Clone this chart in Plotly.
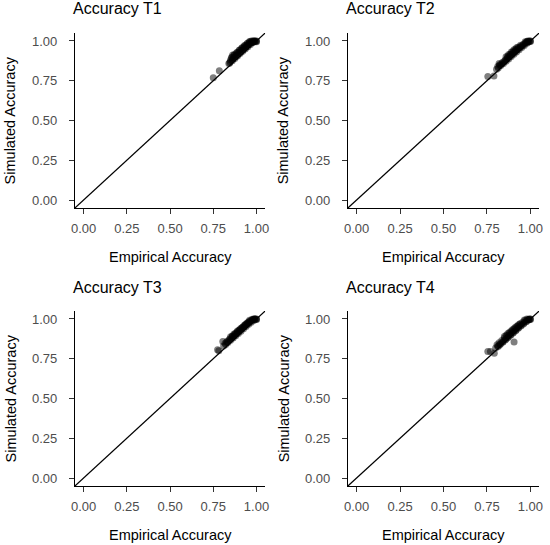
import plotly.graph_objects as go

# accuracy per item
emp_t1 = [0.750, 0.785, 0.862,
          0.840, 0.845, 0.860, 0.875, 0.890, 0.905, 0.920, 0.935, 0.950, 0.965, 0.980, 0.990, 1.000,
          0.850, 0.865, 0.880, 0.895, 0.910, 0.925, 0.940, 0.955, 0.970, 0.985,
          0.855, 0.870, 0.885, 0.900, 0.915, 0.930, 0.945, 0.960,
          0.848, 0.863, 0.878, 0.893, 0.908, 0.923, 0.938, 0.953, 0.968, 0.983,
          0.858, 0.873, 0.888, 0.903, 0.918, 0.933, 0.948,
          0.960, 0.970, 0.980, 0.990, 1.000, 0.995, 0.975]
sim_t1 = [0.769, 0.813, 0.912,
          0.858, 0.862, 0.876, 0.890, 0.905, 0.921, 0.935, 0.950, 0.964, 0.978, 0.990, 0.997, 1.000,
          0.880, 0.895, 0.912, 0.928, 0.943, 0.957, 0.970, 0.983, 0.993, 0.999,
          0.895, 0.912, 0.926, 0.942, 0.956, 0.970, 0.983, 0.993,
          0.870, 0.885, 0.900, 0.915, 0.930, 0.945, 0.960, 0.974, 0.987, 0.997,
          0.898, 0.913, 0.928, 0.943, 0.958, 0.972, 0.986,
          0.997, 1.000, 1.000, 1.000, 0.995, 0.998, 0.990]

emp_t2 = [0.755, 0.790, 0.820,
          0.805, 0.815, 0.830, 0.845, 0.860, 0.875, 0.890, 0.905, 0.920, 0.935, 0.950, 0.965, 0.980, 0.990, 1.000,
          0.812, 0.825, 0.840, 0.855, 0.870, 0.885, 0.900, 0.915, 0.930, 0.945, 0.960, 0.975,
          0.860, 0.875, 0.890, 0.905, 0.920,
          0.822, 0.837, 0.852, 0.867, 0.882, 0.897, 0.912, 0.927, 0.942, 0.957, 0.972, 0.987,
          0.868, 0.883, 0.898, 0.913, 0.928, 0.943,
          0.970, 0.985, 0.995, 1.000, 0.980]
sim_t2 = [0.776, 0.780, 0.858,
          0.822, 0.830, 0.845, 0.858, 0.872, 0.887, 0.902, 0.916, 0.931, 0.945, 0.959, 0.972, 0.986, 0.994, 1.000,
          0.840, 0.852, 0.866, 0.881, 0.896, 0.911, 0.926, 0.940, 0.954, 0.967, 0.980, 0.991,
          0.900, 0.915, 0.930, 0.944, 0.958,
          0.845, 0.859, 0.874, 0.889, 0.904, 0.919, 0.933, 0.948, 0.962, 0.975, 0.987, 0.996,
          0.902, 0.917, 0.932, 0.946, 0.960, 0.973,
          0.995, 0.999, 1.000, 0.996, 0.997]

emp_t3 = [0.775, 0.782, 0.805,
          0.810, 0.822, 0.835, 0.850, 0.865, 0.880, 0.895, 0.910, 0.925, 0.940, 0.955, 0.970, 0.985, 0.995, 1.000,
          0.818, 0.830, 0.845, 0.860, 0.875, 0.890, 0.905, 0.920, 0.935, 0.950, 0.965, 0.980,
          0.850, 0.870, 0.890, 0.910, 0.930, 0.945,
          0.827, 0.842, 0.857, 0.872, 0.887, 0.902, 0.917, 0.932, 0.947, 0.962, 0.977, 0.990,
          0.860, 0.880, 0.900, 0.920, 0.938, 0.955,
          0.960, 0.975, 0.990, 1.000, 0.985]
sim_t3 = [0.807, 0.800, 0.859,
          0.830, 0.840, 0.852, 0.866, 0.880, 0.894, 0.909, 0.923, 0.938, 0.952, 0.966, 0.979, 0.991, 0.998, 1.000,
          0.848, 0.860, 0.874, 0.889, 0.904, 0.919, 0.934, 0.948, 0.962, 0.975, 0.987, 0.996,
          0.888, 0.906, 0.924, 0.942, 0.960, 0.975,
          0.853, 0.867, 0.882, 0.897, 0.912, 0.927, 0.941, 0.956, 0.970, 0.983, 0.994, 0.999,
          0.893, 0.912, 0.931, 0.950, 0.967, 0.982,
          0.992, 0.998, 1.000, 0.996, 0.999]

emp_t4 = [0.755, 0.770, 0.792, 0.906,
          0.800, 0.812, 0.825, 0.840, 0.855, 0.870, 0.885, 0.900, 0.915, 0.930, 0.945, 0.960, 0.975, 0.990, 1.000,
          0.808, 0.820, 0.835, 0.850, 0.865, 0.880, 0.895, 0.910, 0.925, 0.940, 0.955, 0.970, 0.985,
          0.850, 0.870, 0.890, 0.910, 0.930,
          0.816, 0.828, 0.843, 0.858, 0.873, 0.888, 0.903, 0.918, 0.933, 0.948, 0.963, 0.978, 0.992,
          0.860, 0.880, 0.900, 0.920, 0.940,
          0.965, 0.980, 0.995, 1.000]
sim_t4 = [0.795, 0.795, 0.784, 0.855,
          0.818, 0.828, 0.840, 0.854, 0.868, 0.882, 0.897, 0.912, 0.926, 0.941, 0.955, 0.969, 0.982, 0.994, 1.000,
          0.838, 0.850, 0.864, 0.879, 0.894, 0.909, 0.924, 0.938, 0.952, 0.966, 0.979, 0.990, 0.997,
          0.890, 0.908, 0.926, 0.944, 0.962,
          0.828, 0.842, 0.857, 0.872, 0.886, 0.901, 0.916, 0.931, 0.946, 0.960, 0.974, 0.986, 0.996,
          0.898, 0.917, 0.935, 0.953, 0.970,
          0.993, 0.999, 1.000, 0.996]

panel_titles = ["Accuracy T1", "Accuracy T2", "Accuracy T3", "Accuracy T4"]
tick_vals = [0, 0.25, 0.5, 0.75, 1.0]
tick_text = ["0.00", "0.25", "0.50", "0.75", "1.00"]
axis_range = [-0.05, 1.05]

W, H = 550, 545
x_doms = [[72 / W, 265 / W], [349 / W, 543 / W]]
y_doms = [[1 - 208 / H, 1 - 33 / H], [1 - 486 / H, 1 - 311 / H]]

data = [(emp_t1, sim_t1), (emp_t2, sim_t2), (emp_t3, sim_t3), (emp_t4, sim_t4)]
font = "Liberation Sans, Arial, sans-serif"

fig = go.Figure()
annotations = []
for i, (emp, sim) in enumerate(data):
    row, col = i // 2, i % 2
    n = "" if i == 0 else str(i + 1)
    xd, yd = x_doms[col], y_doms[row]
    # identity line across the whole panel
    fig.add_trace(go.Scatter(x=axis_range, y=axis_range, mode="lines",
                             line=dict(color="black", width=1.2),
                             xaxis="x" + n, yaxis="y" + n, hoverinfo="skip"))
    fig.add_trace(go.Scatter(x=emp, y=sim, mode="markers",
                             marker=dict(color="rgba(0,0,0,0.5)", size=7, line=dict(width=0)),
                             xaxis="x" + n, yaxis="y" + n))
    ax = dict(range=axis_range, tickvals=tick_vals, ticktext=tick_text,
              showgrid=False, zeroline=False, showline=True, linecolor="black", linewidth=1,
              ticks="outside", ticklen=5, tickcolor="#333333", tickwidth=1,
              tickfont=dict(family=font, size=13, color="#4D4D4D"))
    fig.layout["xaxis" + n] = dict(ax, domain=xd, anchor="y" + n, ticklabelstandoff=3)
    fig.layout["yaxis" + n] = dict(ax, domain=yd, anchor="x" + n, ticklabelstandoff=9)
    annotations.append(dict(text=panel_titles[i], x=xd[0] - 4 / W, y=yd[1] + 24 / H,
                            xref="paper", yref="paper", xanchor="left", yanchor="middle",
                            showarrow=False, font=dict(family=font, size=16, color="black")))
    annotations.append(dict(text="Empirical Accuracy", x=(xd[0] + xd[1]) / 2, y=yd[0] - 49 / H,
                            xref="paper", yref="paper", xanchor="center", yanchor="middle",
                            showarrow=False, font=dict(family=font, size=14.5, color="black")))
    annotations.append(dict(text="Simulated Accuracy", x=xd[0] - 65 / W, y=(yd[0] + yd[1]) / 2,
                            xref="paper", yref="paper", xanchor="center", yanchor="middle",
                            textangle=-90, showarrow=False,
                            font=dict(family=font, size=14.5, color="black")))

fig.update_layout(width=W, height=H, margin=dict(l=0, r=0, t=0, b=0),
                  plot_bgcolor="white", paper_bgcolor="white",
                  showlegend=False, annotations=annotations)

# the page body has a default margin; drop it so the figure sits at the corner
fig.write_html("out.html", config={"displayModeBar": False},
               post_script="document.body.style.margin='0';")
